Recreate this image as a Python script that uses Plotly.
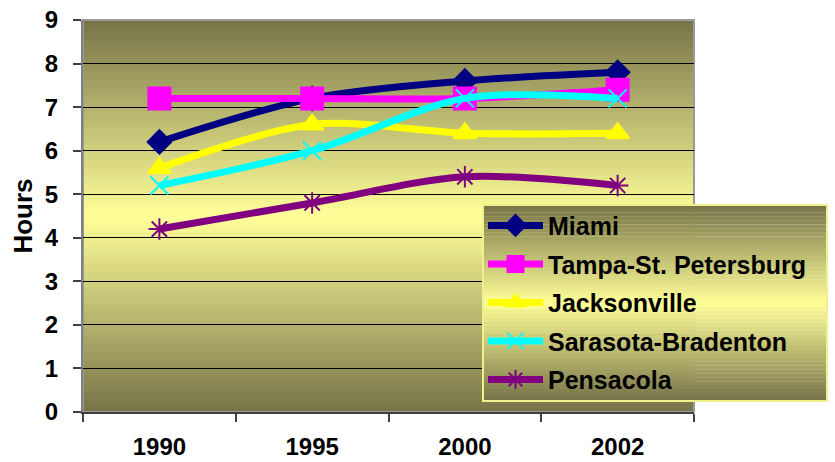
import plotly.graph_objects as go

# ---- data -------------------------------------------------------------
years = ["1990", "1995", "2000", "2002"]
series_names = ["Miami", "Tampa-St. Petersburg", "Jacksonville",
                "Sarasota-Bradenton", "Pensacola"]
miami = [6.2, 7.2, 7.6, 7.8]
tampa = [7.2, 7.2, 7.2, 7.4]
jacksonville = [5.6, 6.6, 6.4, 6.4]
sarasota = [5.2, 6.0, 7.2, 7.2]
pensacola = [4.2, 4.8, 5.4, 5.2]
y_ticks = [0, 1, 2, 3, 4, 5, 6, 7, 8, 9]

# ---- styling ----------------------------------------------------------
series_values = [miami, tampa, jacksonville, sarasota, pensacola]
colors = ["#000080", "#FF00FF", "#FFFF00", "#00FFFF", "#800080"]
symbols = ["diamond", "square", "triangle-up", "x-thin", "asterisk"]
sizes = [18, 22, 20, 18, 18]

FONT = "Liberation Sans, Arial, sans-serif"
W, H = 835, 462
ML, MR, MT, MB = 83, 141, 20, 50

fig = go.Figure()
for name, vals, col, sym, sz in zip(series_names, series_values, colors, symbols, sizes):
    fig.add_trace(go.Scatter(
        x=years, y=vals, name=name, mode="lines+markers", legendgroup=name,
        line=dict(color=col, width=7, shape="spline", smoothing=0.9),
        marker=dict(symbol=sym, size=sz, color=col,
                    line=dict(color=col, width=2)),
    ))


def mix(c1, c2, t):
    return "rgb({},{},{})".format(*[round(a + (b - a) * t) for a, b in zip(c1, c2)])


DARK = (118, 115, 72)
LIGHT = (255, 255, 153)


def gradient_bands(x0, x1, y0, y1, n, layer):
    """Dark-light-dark vertical gradient built from thin rectangles."""
    out = []
    step = (y1 - y0) / n
    for i in range(n):
        c = (i + 0.5) / n
        t = 1 - abs(c - 0.5) * 2
        out.append(dict(type="rect", xref="paper", yref="paper",
                        x0=x0, x1=x1, y0=y0 + i * step, y1=y0 + (i + 1) * step + step * 0.05,
                        line=dict(width=0), fillcolor=mix(DARK, LIGHT, t), layer=layer))
    return out


shapes = gradient_bands(0, 1, 0, 1, 98, "below")

# legend panel
pw, ph = W - ML - MR, H - MT - MB
lx0 = (483 - ML) / pw
lx1 = (827 - ML) / pw
ly0 = (H - MB - 401) / ph
ly1 = (H - MB - 205) / ph
shapes += gradient_bands(lx0, lx1, ly0, ly1, 50, "above")
shapes.append(dict(type="rect", xref="paper", yref="paper", x0=lx0, x1=lx1,
                   y0=ly0, y1=ly1, line=dict(color="#f0f08c", width=2),
                   fillcolor="rgba(0,0,0,0)", layer="above"))
# plot area frame (top / right)
shapes.append(dict(type="rect", xref="paper", yref="paper", x0=0, x1=1, y0=0, y1=1,
                   line=dict(color="#9a9a9a", width=2), fillcolor="rgba(0,0,0,0)",
                   layer="below"))

fig.update_layout(
    width=W, height=H,
    margin=dict(l=ML, r=MR, t=MT, b=MB, autoexpand=False),
    paper_bgcolor="white", plot_bgcolor="rgba(0,0,0,0)",
    font=dict(family=FONT, size=24, color="black", weight="bold"),
    shapes=shapes,
    showlegend=True,
    legend=dict(x=lx0, y=ly1 + 0.006, xanchor="left", yanchor="top",
                bgcolor="rgba(0,0,0,0)", borderwidth=0,
                font=dict(family=FONT, size=25, color="black", weight="bold"),
                itemwidth=55, tracegroupgap=3),
)
fig.update_xaxes(
    type="category", range=[-0.5, 3.5], tickson="boundaries",
    ticks="outside", ticklen=8, tickcolor="#404040", tickwidth=2,
    showline=True, linecolor="#404040", linewidth=2,
    showgrid=False, ticklabelstandoff=12,
    tickfont=dict(family=FONT, size=24, weight="bold"),
)
fig.update_yaxes(
    range=[0, 9], tickvals=y_ticks,
    ticks="outside", ticklen=8, tickcolor="#404040", tickwidth=2,
    showline=True, linecolor="#808080", linewidth=2,
    showgrid=True, gridcolor="black", gridwidth=1, zeroline=False,
    ticklabelstandoff=10,
    tickfont=dict(family=FONT, size=24, weight="bold"),
    title=dict(text="Hours", standoff=5,
               font=dict(family=FONT, size=26, weight="bold")),
)

fig.write_html("out.html")
